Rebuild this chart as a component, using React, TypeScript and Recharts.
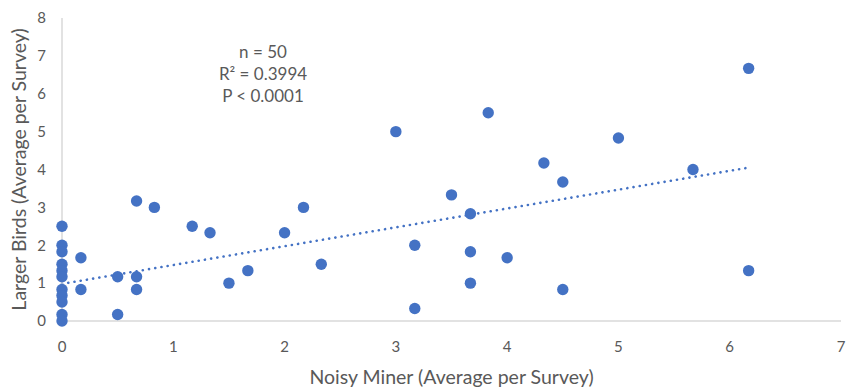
import { ScatterChart, Scatter, XAxis, YAxis, ReferenceLine } from 'recharts';

// Noisy Miner vs Larger Birds, averages per survey
const noisyMiner = [
    0, 0, 0, 0, 0, 0, 0, 0, 0, 0, 0,
    0.17, 0.17, 0.5, 0.5, 0.67, 0.67, 0.67, 0.83,
    1.17, 1.33, 1.5, 1.67, 2.0, 2.17, 2.33,
    3.0, 3.17, 3.17, 3.5, 3.67, 3.67, 3.67, 3.83, 4.0, 4.33,
    4.5, 4.5, 5.0, 5.67, 6.17, 6.17,
];
const largerBirds = [
    2.5, 2.0, 1.83, 1.5, 1.33, 1.17, 0.83, 0.67, 0.5, 0.17, 0,
    1.67, 0.83, 1.17, 0.17, 1.17, 0.83, 3.17, 3.0,
    2.5, 2.33, 1.0, 1.33, 2.33, 3.0, 1.5,
    5.0, 2.0, 0.33, 3.33, 2.83, 1.83, 1.0, 5.5, 1.67, 4.17,
    3.67, 0.83, 4.83, 4.0, 6.67, 1.33,
];
const xTicks = [0, 1, 2, 3, 4, 5, 6, 7];
const yTicks = [0, 1, 2, 3, 4, 5, 6, 7, 8];
// linear trendline end points
const trendX = [0, 6.17];
const trendY = [0.98, 4.05];
const statLines = ['n = 50', 'R\u00b2 = 0.3994', 'P < 0.0001'];

const points = noisyMiner.map((x, i) => ({ x, y: largerBirds[i] }));

const BLUE = '#4472C4';
const TEXT = '#595959';
const FONT = 'Lato, "Open Sans", sans-serif';

const Dot = (props: any) => <circle cx={props.cx} cy={props.cy} r={5.7} fill={BLUE} />;

export default function App() {
    return (
        <div style={{ position: 'absolute', left: 0, top: 0, width: 847, height: 390, background: '#fff', fontFamily: FONT }}>
            <ScatterChart width={847} height={390} margin={{ top: 18, right: 6, bottom: 0, left: 22 }}>
                <XAxis
                    type="number"
                    dataKey="x"
                    domain={[0, 7]}
                    ticks={xTicks}
                    height={69}
                    tickLine={false}
                    tickSize={0}
                    tickMargin={20}
                    axisLine={{ stroke: '#D9D9D9', strokeWidth: 1.5 }}
                    tick={{ fill: TEXT, fontSize: 15, fontFamily: FONT }}
                    label={{ value: 'Noisy Miner (Average per Survey)', position: 'insideBottom', offset: 6, fill: TEXT, fontSize: 19.5, fontFamily: FONT }}
                />
                <YAxis
                    type="number"
                    dataKey="y"
                    domain={[0, 8]}
                    ticks={yTicks}
                    width={40}
                    tickLine={false}
                    tickSize={0}
                    tickMargin={16}
                    axisLine={{ stroke: '#D9D9D9', strokeWidth: 1.5 }}
                    tick={{ fill: TEXT, fontSize: 15, fontFamily: FONT }}
                    label={{ value: 'Larger Birds (Average per Survey)', angle: -90, position: 'insideLeft', offset: -3, fill: TEXT, fontSize: 19.5, fontFamily: FONT, style: { textAnchor: 'middle' } }}
                />
                <Scatter data={points} fill={BLUE} shape={Dot} isAnimationActive={false} />
                <ReferenceLine
                    segment={[{ x: trendX[0], y: trendY[0] }, { x: trendX[1], y: trendY[1] }]}
                    stroke={BLUE}
                    strokeWidth={2.6}
                    strokeDasharray="0.1 6.2"
                    strokeLinecap="round"
                    ifOverflow="visible"
                />
            </ScatterChart>
            <div style={{ position: 'absolute', left: 163, top: 41, width: 200, textAlign: 'center', color: TEXT, fontSize: 17, lineHeight: '22px' }}>
                {statLines.map((s) => (
                    <div key={s}>{s}</div>
                ))}
            </div>
        </div>
    );
}
